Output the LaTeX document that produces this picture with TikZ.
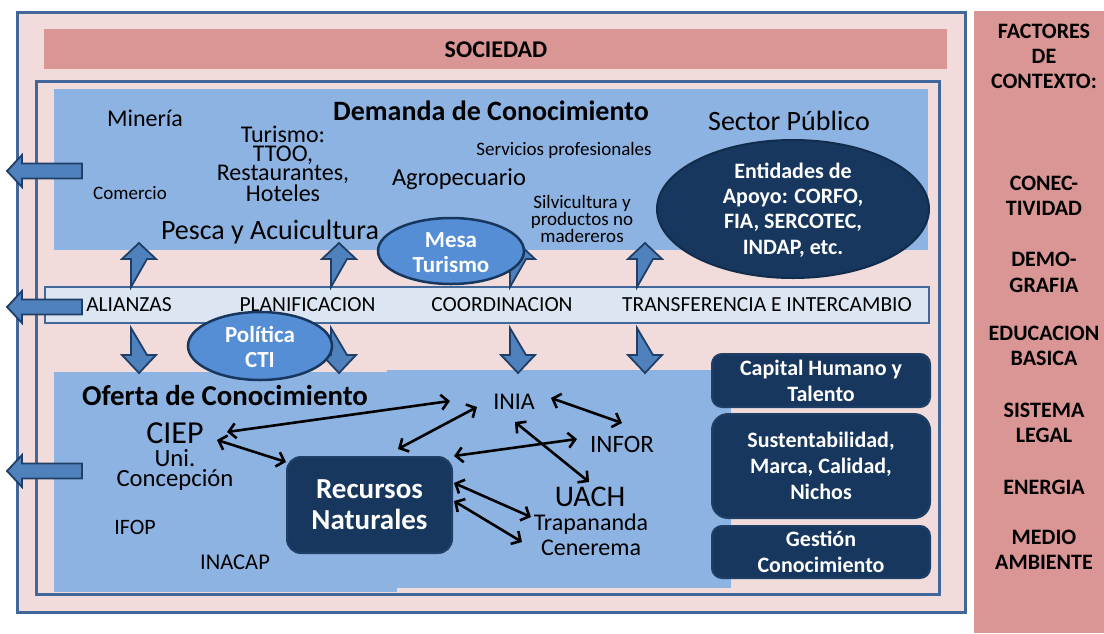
\documentclass[tikz,border=0pt]{standalone}
\usepackage{fontspec}
\setmainfont{Carlito}
\usetikzlibrary{arrows.meta}

\definecolor{rosa}{HTML}{F2DCDB}
\definecolor{rosaosc}{HTML}{DA9694}
\definecolor{marco}{HTML}{41679B}
\definecolor{celeste}{HTML}{8DB3E2}
\definecolor{banda}{HTML}{DCE6F2}
\definecolor{flecha}{HTML}{4F81BD}
\definecolor{flechaborde}{HTML}{1F3F66}
\definecolor{elipse}{HTML}{558ED5}
\definecolor{marino}{HTML}{17375E}

\newcommand{\fz}[2]{\fontsize{#1}{#2}\selectfont}

\begin{document}
\begin{tikzpicture}[x=1pt,y=-1pt,
  txt/.style={inner sep=0pt, align=center},
  blanco/.style={txt, text=white, font=\bfseries\fz{22}{25.3}},
  caja/.style={draw=flechaborde, fill=marino, line width=2pt, rounded corners=10pt,
    text=white, align=center, font=\bfseries\fz{22}{26}},
  ovalo/.style={draw=marino, fill=elipse, line width=2.5pt},
  bloque/.style={draw=flechaborde, fill=flecha, line width=1.8pt},
  link/.style={line width=2.6pt, {Straight Barb[length=7pt,width=15pt]}-{Straight Barb[length=7pt,width=15pt]}},
  uparr/.pic={\draw[bloque] (-8,0) -- (-8,-28) -- (-17,-28) -- (0,-44) -- (17,-28) -- (8,-28) -- cycle;},
  downarr/.pic={\draw[bloque] (-8,0) -- (-8,27) -- (-17,27) -- (0,45) -- (17,27) -- (8,27) -- cycle;},
  leftarr/.pic={\draw[bloque] (0,-7.5) -- (-60,-7.5) -- (-60,-16) -- (-75,0) -- (-60,16) -- (-60,7.5) -- (0,7.5) -- cycle;}]

\useasboundingbox (0,0) rectangle (1104,633);

% marcos
\filldraw[fill=rosa, draw=marco, line width=3pt] (17,12) rectangle (965,612);
\fill[rosaosc] (44,29) rectangle (947,69);
\node[txt, font=\bfseries\fz{24}{24}] (sociedad) at (496,50) {SOCIEDAD};
\filldraw[fill=rosa, draw=marco, line width=3pt] (36,81) rectangle (939,594);

% demanda y oferta
\fill[celeste] (54,89) rectangle (928,250);
\fill[celeste] (54,372) rectangle (397,592);
\fill[celeste] (387,370) rectangle (731,588);

\filldraw[fill=banda, draw=marco, line width=1.5pt] (45,287) rectangle (929,323);

\foreach \x in {139,339,518,645} {
  \pic at (\x,287) {uparr};
  \pic at (\x,328) {downarr};
}
\foreach \y in {171,307,471}
  \pic at (82,\y) {leftarr};

% textos demanda
\node[txt, font=\bfseries\fz{28}{28}] (demanda) at (491,111) {Demanda de Conocimiento};
\node[txt, font=\fz{24}{24}] (mineria) at (145,118) {Minería};
\node[txt, font=\fz{28}{28}] (publico) at (789,121) {Sector Público};
\node[txt, font=\fz{24}{19}] (turismo) at (283,164) {Turismo:\\TTOO,\\Restaurantes,\\Hoteles};
\node[txt, font=\fz{19}{19}] (servicios) at (564,150) {Servicios profesionales};
\node[txt, font=\fz{19}{19}] (comercio) at (130,193) {Comercio};
\node[txt, font=\fz{24.5}{24.5}] (agro) at (459,179) {Agropecuario};
\node[txt, font=\fz{19}{16}] (silvi) at (582,219) {Silvicultura y\\productos no\\madereros};
\node[txt, font=\fz{28}{28}] (pesca) at (270,232) {Pesca y Acuicultura};

\filldraw[draw=marino!80!black, fill=marino, line width=2pt] (793,209) ellipse [x radius=136pt, y radius=69pt];
\node[blanco] (entidades) at (793,210) {Entidades de\\Apoyo: CORFO,\\FIA, SERCOTEC,\\INDAP, etc.};

\filldraw[ovalo] (451,251) ellipse [x radius=73pt, y radius=33pt];
\node[blanco, font=\bfseries\fz{23}{25}] (mesa) at (451,253) {Mesa\\Turismo};

% banda
\node[txt, font=\fz{21.5}{21.5}] (alianzas) at (129,305) {ALIANZAS};
\node[txt, font=\fz{21.5}{21.5}] (planif) at (307.5,305) {PLANIFICACION};
\node[txt, font=\fz{21.5}{21.5}] (coord) at (502,305) {COORDINACION};
\node[txt, font=\fz{21.5}{21.5}] (transf) at (767,305) {TRANSFERENCIA E INTERCAMBIO};

\filldraw[ovalo] (260,346) ellipse [x radius=72pt, y radius=34pt];
\node[blanco, font=\bfseries\fz{23}{25}] (politica) at (260,347) {Política\\CTI};

% textos oferta
\node[txt, font=\bfseries\fz{28.8}{28.8}] (oferta) at (225,395) {Oferta de Conocimiento};
\node[txt, font=\fz{32}{32}] (ciep) at (175,433) {CIEP};
\node[txt, font=\fz{24.7}{20}] (unic) at (175,470) {Uni.\\Concepción};
\node[txt, font=\fz{22}{22}] (ifop) at (135,527) {IFOP};
\node[txt, font=\fz{22.5}{22.5}] (inacap) at (235,562) {INACAP};
\node[caja, rounded corners=14pt, minimum width=165pt, minimum height=96pt,
  font=\bfseries\fz{29}{31}] (recursos) at (369.5,505) {Recursos\\Naturales};
\node[txt, font=\fz{24}{24}] (inia) at (514,402) {INIA};
\node[txt, font=\fz{25}{25}] (infor) at (622,444) {INFOR};
\node[txt, font=\fz{30}{30}] (uach) at (590,497) {UACH};
\node[txt, font=\fz{24}{24}] (trapa) at (591,524) {Trapananda};
\node[txt, font=\fz{24}{24}] (cener) at (591,548) {Cenerema};

% cajas derecha
\node[caja, minimum width=218pt, minimum height=53pt] (capital) at (821,380.5) {Capital Humano y\\Talento};
\node[caja, rounded corners=16pt, minimum width=218pt, minimum height=104pt] (sustent) at (821,466) {Sustentabilidad,\\Marca, Calidad,\\Nichos};
\node[caja, minimum width=218pt, minimum height=52pt] (gestion) at (821,552) {Gestión\\Conocimiento};

% flechas dobles
\draw[link] ([shift={(52,-1)}]ciep.center) -- ([shift={(-64,-1)}]inia.center);
\draw[link] ([shift={(42,7)}]ciep.center) -- ([shift={(0,6)}]recursos.north west);
\draw[link] ([shift={(-37,5)}]inia.center) -- ([shift={(28.5,-7)}]recursos.north);
\draw[link] ([shift={(-45,-5)}]infor.center) -- ([shift={(1,0)}]recursos.north east);
\draw[link] ([shift={(37,-4)}]inia.center) -- ([shift={(0,-21)}]infor.center);
\draw[link] ([shift={(1,20)}]inia.center) -- ([shift={(-1,-15)}]uach.center);
\draw[link] ([shift={(1,-22)}]recursos.east) -- ([shift={(-60,-7)}]trapa.center);
\draw[link] ([shift={(1,-4)}]recursos.east) -- ([shift={(-69,-6)}]cener.center);

% factores de contexto
\fill[rosaosc] (974,11) rectangle (1104,633);
\foreach \lbl/\yy [count=\i] in {{FACTORES\\DE\\CONTEXTO:}/56.5, {CONEC-\\TIVIDAD}/195.5,
    {DEMO-\\GRAFIA}/272.5, {EDUCACION\\BASICA}/346, {SISTEMA\\LEGAL}/423,
    {ENERGIA}/487.5, {MEDIO\\AMBIENTE}/550}
  \node[txt, font=\bfseries\fz{22}{25.3}] (ctx\i) at (1044,\yy) {\lbl};

\end{tikzpicture}
\end{document}
